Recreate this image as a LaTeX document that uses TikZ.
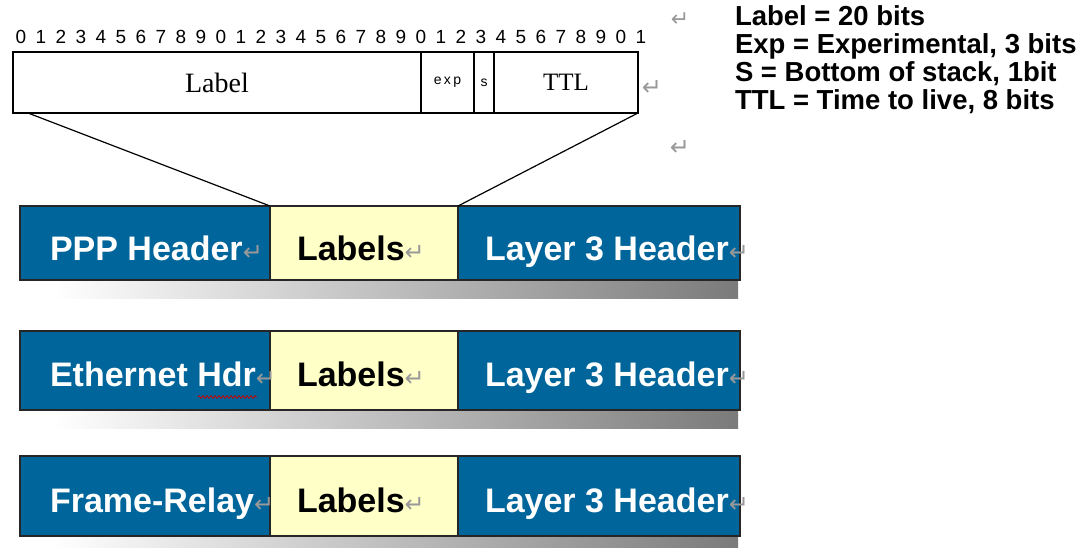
\documentclass[tikz,border=0pt]{standalone}
\usepackage{fontspec}
\setmainfont{Liberation Sans}
\newfontfamily\timesfont{Liberation Serif}
\newfontfamily\markfont{DejaVu Sans}
\usetikzlibrary{decorations.pathmorphing}
\definecolor{barblue}{HTML}{00659A}
\definecolor{labyellow}{HTML}{FFFFC8}
\definecolor{markgray}{gray}{0.6}
\newcommand\retmark[1]{{\markfont\mdseries\color{markgray}\fontsize{#1}{#1}\selectfont ↵}}
\begin{document}
\begin{tikzpicture}[x=1pt,y=-1pt,
  every node/.style={inner sep=0pt, outer sep=0pt},
  fieldbox/.style={draw=black, line width=1.3pt, fill=white, minimum height=61pt},
  hdrbox/.style={draw=black!85, line width=1.6pt, fill=barblue},
  labbox/.style={draw=black!85, line width=1.6pt, fill=labyellow},
  bartext/.style={anchor=base west, text=white, font=\bfseries\fontsize{34}{36}\selectfont},
  labtext/.style={anchor=base west, text=black, font=\bfseries\fontsize{34}{36}\selectfont},
  legend/.style={anchor=base west, font=\bfseries\fontsize{27.5}{30}\selectfont},
  digit/.style={font=\fontsize{19}{20}\selectfont},
  retnode/.style={anchor=center},
  zoomline/.style={line width=1.2pt},
  shadowbar/.style={left color=white, right color=black!52},
  squiggle/.style={red!80!black, line width=0.8pt, decorate, decoration={zigzag, segment length=4pt, amplitude=1.3pt}}
]
\useasboundingbox (0,0) rectangle (1090,548);

% bit numbers
\foreach \i in {0,...,31}{
  \pgfmathtruncatemacro\d{mod(\i,10)}
  \node[digit] (bit\i) at (21+\i*20,37) {\d};
}
\node[retnode] (m1) at (680,20) {\retmark{22}};

% label stack entry fields
\node[fieldbox, minimum width=408pt] (flabel) at (217,82.5) {\timesfont\fontsize{28}{30}\selectfont Label};
\node[fieldbox, minimum width=53pt] (fexp) at (447.5,82.5) {\fontsize{14}{16}\selectfont e\,x\,p};
\node[fieldbox, minimum width=20pt] (fs) at (484,82.5) {\fontsize{14}{16}\selectfont s};
\node[fieldbox, minimum width=144pt] (fttl) at (566,82.5) {\timesfont\fontsize{25}{28}\selectfont TTL};
\node[retnode] (m2) at (652,88) {\retmark{24}};
\node[retnode] (m3) at (680,148) {\retmark{24}};

% legend
\node[legend] (leg1) at (735,26) {Label = 20 bits};
\node[legend] (leg2) at (735,54) {Exp = Experimental, 3 bits};
\node[legend] (leg3) at (735,82) {S = Bottom of stack, 1bit};
\node[legend] (leg4) at (735,110) {TTL = Time to live, 8 bits};

% bar 1
\shade[shadowbar] (53,281) rectangle (738,298);
\node[hdrbox, minimum width=250pt, minimum height=74pt] (hdr1) at (145,243) {};
\node[labbox, minimum width=188pt, minimum height=74pt] (lab1) at (364,243) {};
\node[hdrbox, minimum width=282pt, minimum height=74pt] (l31) at (599,243) {};
\node[bartext] (t11) at (50,261) {PPP Header\retmark{24}};
\node[labtext] (t12) at (297,261) {Labels\retmark{24}};
\node[bartext] (t13) at (485,261) {Layer 3 Header\retmark{24}};

% bar 2
\shade[shadowbar] (53,411) rectangle (738,428);
\node[hdrbox, minimum width=250pt, minimum height=79pt] (hdr2) at (145,370.5) {};
\node[labbox, minimum width=188pt, minimum height=79pt] (lab2) at (364,370.5) {};
\node[hdrbox, minimum width=282pt, minimum height=79pt] (l32) at (599,370.5) {};
\node[bartext] (t21) at (50,386) {Ethernet Hdr\retmark{24}};
\node[labtext] (t22) at (297,386) {Labels\retmark{24}};
\node[bartext] (t23) at (485,386) {Layer 3 Header\retmark{24}};
\draw[squiggle] (198,397) -- (257,397);

% bar 3
\shade[shadowbar] (53,537) rectangle (738,552);
\node[hdrbox, minimum width=250pt, minimum height=80pt] (hdr3) at (145,496) {};
\node[labbox, minimum width=188pt, minimum height=80pt] (lab3) at (364,496) {};
\node[hdrbox, minimum width=282pt, minimum height=80pt] (l33) at (599,496) {};
\node[bartext] (t31) at (50,512) {Frame-Relay\retmark{24}};
\node[labtext] (t32) at (297,512) {Labels\retmark{24}};
\node[bartext] (t33) at (485,512) {Layer 3 Header\retmark{24}};

% zoom lines from the entry to the labels
\coordinate (zl) at (28,113);
\draw[zoomline] (zl) -- (lab1.north west);
\draw[zoomline] (fttl.south east) -- (lab1.north east);
\end{tikzpicture}
\end{document}
